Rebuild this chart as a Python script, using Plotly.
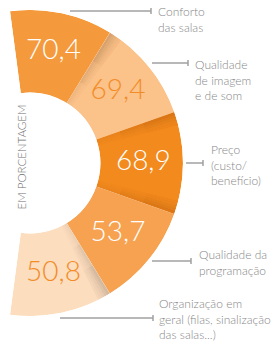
import plotly.graph_objects as go

categories = ["Conforto das salas", "Qualidade de imagem e de som", "Preço (custo/benefício)",
              "Qualidade da programação", "Organização em geral (filas, sinalização das salas...)"]
values = [70.4, 69.4, 68.9, 53.7, 50.8]
value_labels = ["70,4", "69,4", "68,9", "53,7", "50,8"]
label_lines = [["Conforto", "das salas"],
               ["Qualidade", "de imagem", "e de som"],
               ["Preço", "(custo/", "benefício)"],
               ["Qualidade da", "programação"],
               ["Organização em", "geral (filas, sinalização", "das salas...)"]]
colors = ["#F49A3C", "#FBC28A", "#F28A1E", "#F6A251", "#FCDDBE"]
text_colors = ["#FFFFFF", "#F28C28", "#FFFFFF", "#FFFFFF", "#F28C28"]

W, H = 279, 344
n = len(values)
span = 39.0
thetas = [span * i + span / 2 for i in range(n)]

fig = go.Figure()
fig.add_trace(go.Barpolar(
    r=[1] * n, theta=thetas, width=[span] * n, base=0,
    marker=dict(color=colors, line=dict(width=0)),
    hoverinfo="text", hovertext=[f"{c}: {v}" for c, v in zip(categories, values)],
    showlegend=False))

# soft shadows near some slice boundaries (decorative)
shadow_specs = [(1, +1, "110,70,30"), (2, +1, "150,70,0"), (3, -1, "150,70,0"), (4, +1, "90,80,70")]
sh_theta, sh_base, sh_r, sh_col = [], [], [], []
ang_steps = [(0.6, 0.26), (1.6, 0.19), (2.6, 0.13), (3.6, 0.08), (4.6, 0.04)]
rad_steps = [(0.0, 0.35), (0.3, 0.3), (0.6, 0.35)]
for b, d, rgb in shadow_specs:
    edge = span * b
    for off, a in ang_steps:
        for base, mult in rad_steps:
            sh_theta.append(edge + d * off)
            sh_base.append(base)
            sh_r.append(1 - base)
            sh_col.append(f"rgba({rgb},{a * mult:.3f})")
fig.add_trace(go.Barpolar(
    r=sh_r, theta=sh_theta, base=sh_base, width=[1.0] * len(sh_theta),
    marker=dict(color=sh_col, line=dict(width=0)),
    hoverinfo="skip", showlegend=False))

fig.add_trace(go.Scatterpolar(
    r=[0.52] * n, theta=thetas, mode="text", text=value_labels,
    textfont=dict(size=28, color=text_colors, family="Lato", weight=300),
    showlegend=False, hoverinfo="skip"))

fig.update_layout(
    width=W, height=H, margin=dict(l=0, r=0, t=0, b=0),
    paper_bgcolor="white", plot_bgcolor="white",
    polar=dict(
        domain=dict(x=[10 / W, 183 / W], y=[1 - 316 / H, 1 - 10 / H]),
        sector=[-97.5, 97.5], hole=0.46, bgcolor="rgba(0,0,0,0)",
        angularaxis=dict(rotation=97.5, direction="clockwise", visible=False,
                         showgrid=False),
        radialaxis=dict(range=[0, 1], visible=False, showgrid=False),
    ),
)

def px(x):
    return x / W

def py(y):
    return 1 - y / H

# label positions (text left x, first line top y) and leader lines (x0, x1, y)
label_pos = [(156, 2), (193, 55), (209, 140), (197, 245), (157, 294)]
leaders = [(70, 151, 11), (152, 188, 63), (186, 203, 163), (152, 191, 261), (60, 153, 318)]
gray = "#878787"
for lines, (lx, ly), (x0, x1, yl) in zip(label_lines, label_pos, leaders):
    fig.add_annotation(x=px(lx), y=py(ly), xref="paper", yref="paper",
                       xanchor="left", yanchor="top", align="left", showarrow=False,
                       text="<br>".join(lines),
                       font=dict(size=12, color=gray, family="Lato", weight=300))
    fig.add_shape(type="line", xref="paper", yref="paper",
                  x0=px(x0), x1=px(x1), y0=py(yl), y1=py(yl),
                  line=dict(color="#A0A0A0", width=1.5))
    fig.add_shape(type="line", xref="paper", yref="paper",
                  x0=px(x1), x1=px(x1), y0=py(yl - 3), y1=py(yl + 3),
                  line=dict(color="#A0A0A0", width=1.5))

fig.add_annotation(x=px(13), y=py(157), xref="paper", yref="paper",
                   text="EM PORCENTAGEM", textangle=-90, showarrow=False,
                   font=dict(size=11.5, color="#6E6E6E", family="Lato", weight=300))

fig.write_html("out.html")
